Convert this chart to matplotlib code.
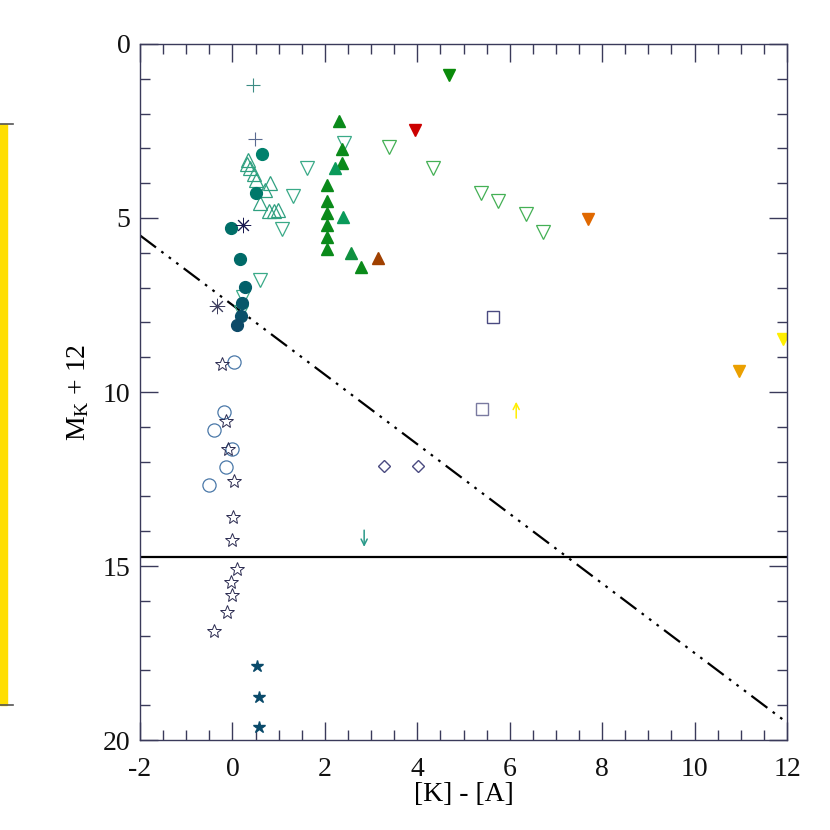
import matplotlib
matplotlib.use('agg')
import matplotlib.pyplot as plt
from matplotlib.patches import Rectangle
from matplotlib.lines import Line2D
from matplotlib.ticker import MultipleLocator

plt.rcParams['font.family'] = ['Liberation Serif', 'DejaVu Serif']
plt.rcParams['mathtext.fontset'] = 'custom'
plt.rcParams['mathtext.rm'] = 'Liberation Serif'
plt.rcParams['axes.unicode_minus'] = False

# ---- data ----
plus_x = [0.44, 0.49]
plus_y = [1.18, 2.73]
plus_c = ['#3c8c84', '#5a6a90']

circ_x = [0.63, 0.50, -0.04, 0.17, 0.27, 0.21, 0.19, 0.09]
circ_y = [3.16, 4.29, 5.30, 6.17, 6.97, 7.43, 7.82, 8.07]
circ_c = ['#00806c', '#00786a', '#006e68', '#006a68', '#03606a', '#06586a', '#0a506a', '#0d4a68']

otri_x = [0.34, 0.32, 0.38, 0.47, 0.52, 0.81, 0.70, 0.60, 0.80, 0.90, 0.99]
otri_y = [3.33, 3.45, 3.57, 3.75, 3.91, 4.00, 4.20, 4.58, 4.79, 4.79, 4.77]

oinv_near_x = [1.61, 1.32, 1.08, 0.60, 0.23, 0.19, 2.41]
oinv_near_y = [3.55, 4.36, 5.33, 6.78, 7.28, 7.70, 2.85]
oinv_far_x = [3.39, 4.34, 5.38, 5.75, 6.35, 6.73]
oinv_far_y = [2.97, 3.55, 4.27, 4.50, 4.89, 5.39]

ftri_x = [2.31, 2.36, 2.38, 2.21, 2.05, 2.05, 2.40, 2.05, 2.05, 2.05, 2.57, 2.05, 2.79, 3.16]
ftri_y = [2.20, 3.02, 3.41, 3.57, 4.06, 4.51, 4.98, 4.87, 5.21, 5.54, 6.02, 5.88, 6.42, 6.14]
ftri_c = ['#0a8a1a', '#0a8a1a', '#0a8a1a', '#0a9a5a', '#0a8a1a', '#0a8a1a', '#0a9a5a',
          '#0a8a1a', '#0a8a1a', '#0a8a1a', '#0f9040', '#0a8a1a', '#0a8a1a', '#a04000']

finv_x = [4.69, 3.95, 7.70, 10.96, 11.91]
finv_y = [0.89, 2.47, 5.04, 9.40, 8.49]
finv_c = ['#0a8a0a', '#cc0000', '#e06800', '#eba000', '#ffee00']

ast_x = [0.23, -0.34]
ast_y = [5.20, 7.52]
ast_c = ['#1a1a50', '#404060']

ocirc_x = [0.03, -0.18, -0.39, 0.00, -0.13, -0.51]
ocirc_y = [9.13, 10.57, 11.10, 11.65, 12.15, 12.67]

ostar_x = [-0.22, -0.13, -0.09, 0.04, 0.02, 0.00, 0.10, -0.03, -0.02, -0.11, -0.40]
ostar_y = [9.20, 10.82, 11.63, 12.55, 13.58, 14.25, 15.10, 15.47, 15.84, 16.31, 16.87]

fstar_x = [0.53, 0.58, 0.58]
fstar_y = [17.86, 18.77, 19.64]

sq_x = [5.63, 5.40]
sq_y = [7.84, 10.50]
sq_c = ['#4a4a80', '#7a7aa0']

dia_x = [3.28, 4.01]
dia_y = [12.13, 12.13]

# arrows: x, y start, y end, colour
arr_x = [6.14, 2.85]
arr_y0 = [10.75, 13.97]
arr_y1 = [10.28, 14.45]
arr_c = ['#ffee00', '#2a9a8a']

hline_y = 14.73
cut_slope = 1.0
cut_icpt = 7.5

fig = plt.figure(figsize=(8.3, 8.3), dpi=100)
ax = fig.add_axes([0.1687, 0.1084, 0.7795, 0.8386])

def pts(xs, ys, marker, cs, ms, filled=True, mew=1.0):
    if isinstance(cs, str):
        cs = [cs] * len(xs)
    for x, y, c in zip(xs, ys, cs):
        ax.plot(x, y, linestyle='none', marker=marker, ms=ms,
                mfc=c if filled else 'none', mec=c, mew=mew)

xx = [-2, 12]
ax.plot(xx, [cut_slope * v + cut_icpt for v in xx], color='black', lw=1.6,
        linestyle=(0, (9, 3, 1.2, 3, 1.2, 3, 1.2, 3)))
ax.axhline(hline_y, color='black', lw=1.6)

pts(plus_x, plus_y, '+', plus_c, 10, mew=0.8)
pts(otri_x, otri_y, '^', '#30a080', 9.5, filled=False, mew=0.9)
pts(oinv_near_x, oinv_near_y, 'v', '#3aaa88', 9.5, filled=False, mew=0.9)
pts(oinv_far_x, oinv_far_y, 'v', '#44b055', 9.5, filled=False, mew=0.9)
pts(circ_x, circ_y, 'o', circ_c, 8.5)
pts(ftri_x, ftri_y, '^', ftri_c, 8.5)
pts(finv_x, finv_y, 'v', finv_c, 8.5)
pts(ast_x, ast_y, (8, 2, 0), ast_c, 11, mew=0.7)
pts(ocirc_x, ocirc_y, 'o', '#4a78a8', 9.5, filled=False, mew=0.9)
pts(ostar_x, ostar_y, '*', '#2a2a50', 10, filled=False, mew=0.7)
pts(fstar_x, fstar_y, '*', '#0a4a6a', 9)
pts(sq_x, sq_y, 's', sq_c, 8.5, filled=False)
pts(dia_x, dia_y, 'D', '#4a4a80', 6.5, filled=False)

for x, y0, y1, c in zip(arr_x, arr_y0, arr_y1, arr_c):
    ax.annotate('', xy=(x, y1), xytext=(x, y0),
                arrowprops=dict(arrowstyle='->', color=c, lw=1.1,
                                shrinkA=0, shrinkB=0, mutation_scale=11))

ax.set_xlim(-2, 12)
ax.set_ylim(20, 0)
ax.xaxis.set_major_locator(MultipleLocator(2))
ax.xaxis.set_minor_locator(MultipleLocator(0.5))
ax.yaxis.set_major_locator(MultipleLocator(5))
ax.yaxis.set_minor_locator(MultipleLocator(1))
axc = '#3a3a5a'
for s in ax.spines.values():
    s.set_color(axc)
    s.set_linewidth(1.0)
ax.tick_params(which='both', direction='in', top=True, right=True, color=axc,
               labelsize=20, labelcolor='#111111')
ax.tick_params(which='major', length=13, width=1.0)
ax.tick_params(axis='x', which='major', pad=12)
ax.tick_params(axis='y', which='major', pad=7)
ax.tick_params(which='minor', length=7, width=1.0)

ax.set_xlabel('[K] - [A]', fontsize=20, labelpad=0)
ax.set_ylabel(r'$\mathregular{M_K}$ + 12', fontsize=20, labelpad=8)

# partial yellow bar on the left edge
fig.patches.append(Rectangle((0, 1 - 705 / 830), 7 / 830, 581 / 830,
                             transform=fig.transFigure, color='#ffde00', zorder=0))
for yp in [124, 705]:
    fig.lines.append(Line2D([0, 13 / 830], [1 - yp / 830] * 2, transform=fig.transFigure,
                            color='#555555', lw=1.2))

fig.savefig('out.png', dpi=100)
